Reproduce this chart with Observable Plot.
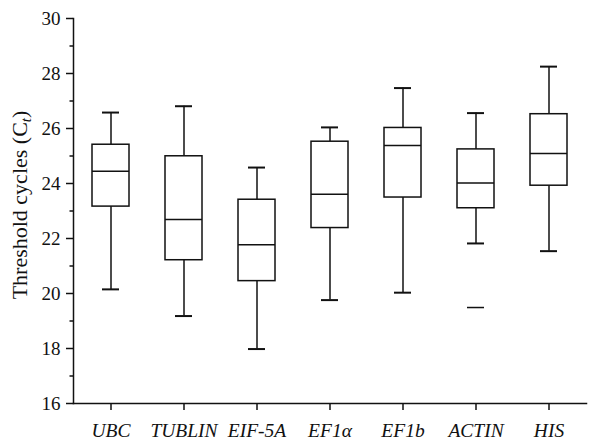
<!DOCTYPE html>
<html>
<head>
<meta charset="utf-8">
<script src="https://cdn.jsdelivr.net/npm/d3@7"></script>
<script src="https://cdn.jsdelivr.net/npm/@observablehq/plot@0.6"></script>
<style>
  body { margin: 0; background: #fff; }
  svg { font-family: "Liberation Serif", "DejaVu Serif", serif; }
</style>
</head>
<body>
<div id="chart"></div>
<script>
const genes = ["UBC", "TUBLIN", "EIF-5A", "EF1α", "EF1b", "ACTIN", "HIS"];
const whiskerLow = [20.15, 19.18, 17.98, 19.76, 20.03, 21.82, 21.54];
const q1 = [23.16, 21.21, 20.45, 22.38, 23.49, 23.10, 23.92];
const median = [24.45, 22.69, 21.77, 23.61, 25.38, 24.02, 25.09];
const q3 = [25.41, 24.99, 23.41, 25.52, 26.02, 25.24, 26.52];
const whiskerHigh = [26.58, 26.81, 24.58, 26.04, 27.47, 26.56, 28.25];
const outlierGenes = ["ACTIN"];
const outlierValues = [19.49];
const yMajorTicks = [16, 18, 20, 22, 24, 26, 28, 30];
const yMinorTicks = [17, 19, 21, 23, 25, 27, 29];

const rows = genes.map((g, i) => ({
  gene: g, lo: whiskerLow[i], q1: q1[i], med: median[i], q3: q3[i], hi: whiskerHigh[i]
}));
const outliers = outlierGenes.map((g, i) => ({gene: g, v: outlierValues[i]}));

const boxInset = 18;
const capInset = 28;
const ink = "#111";

const chart = Plot.plot({
  width: 592,
  height: 442,
  marginLeft: 73,
  marginRight: 6,
  marginTop: 18,
  marginBottom: 39,
  style: {fontFamily: "'Liberation Serif', 'DejaVu Serif', serif", fontSize: "19px", color: ink},
  x: {domain: genes, padding: 0, axis: null},
  y: {domain: [16, 30], axis: null},
  marks: [
    Plot.frame({anchor: "left", stroke: ink, strokeWidth: 1.5}),
    Plot.frame({anchor: "bottom", stroke: ink, strokeWidth: 1.5}),
    Plot.axisY({ticks: yMinorTicks, tickSize: 3.5, tickFormat: () => "", stroke: ink, strokeWidth: 1.5}),
    Plot.axisY({ticks: yMajorTicks, tickSize: 7, tickPadding: 6, label: null,
      tickFormat: d => String(d), stroke: ink, strokeWidth: 1.5, fill: ink, fontSize: 19}),
    Plot.axisX({tickSize: 7, tickPadding: 13, label: null, stroke: ink, strokeWidth: 1.5,
      fill: ink, fontSize: 19.5, fontStyle: "italic"}),
    Plot.ruleX(rows, {x: "gene", y1: "lo", y2: "q1", stroke: ink, strokeWidth: 1.5}),
    Plot.ruleX(rows, {x: "gene", y1: "q3", y2: "hi", stroke: ink, strokeWidth: 1.5}),
    Plot.barY(rows, {x: "gene", y1: "q1", y2: "q3", fill: "white", stroke: ink, strokeWidth: 1.5,
      insetLeft: boxInset, insetRight: boxInset}),
    Plot.tickY(rows, {x: "gene", y: "med", stroke: ink, strokeWidth: 1.5, insetLeft: boxInset, insetRight: boxInset}),
    Plot.tickY(rows, {x: "gene", y: "lo", stroke: ink, strokeWidth: 2, insetLeft: capInset, insetRight: capInset}),
    Plot.tickY(rows, {x: "gene", y: "hi", stroke: ink, strokeWidth: 2, insetLeft: capInset, insetRight: capInset}),
    Plot.tickY(outliers, {x: "gene", y: "v", stroke: ink, strokeWidth: 1.5, insetLeft: capInset, insetRight: capInset})
  ]
});

const svg = d3.select(chart);
const yLabel = svg.append("text")
  .attr("transform", "translate(27,205) rotate(-90)")
  .attr("text-anchor", "middle")
  .attr("fill", ink)
  .style("font-size", "22px")
  .style("font-family", "'Liberation Serif', 'DejaVu Serif', serif");
yLabel.append("tspan").text("Threshold cycles (");
yLabel.append("tspan").text("C");
yLabel.append("tspan").attr("font-style", "italic").attr("font-size", "15px").attr("dy", "4").text("t");
yLabel.append("tspan").attr("dy", "-4").text(")");

document.getElementById("chart").appendChild(chart);
</script>
</body>
</html>
